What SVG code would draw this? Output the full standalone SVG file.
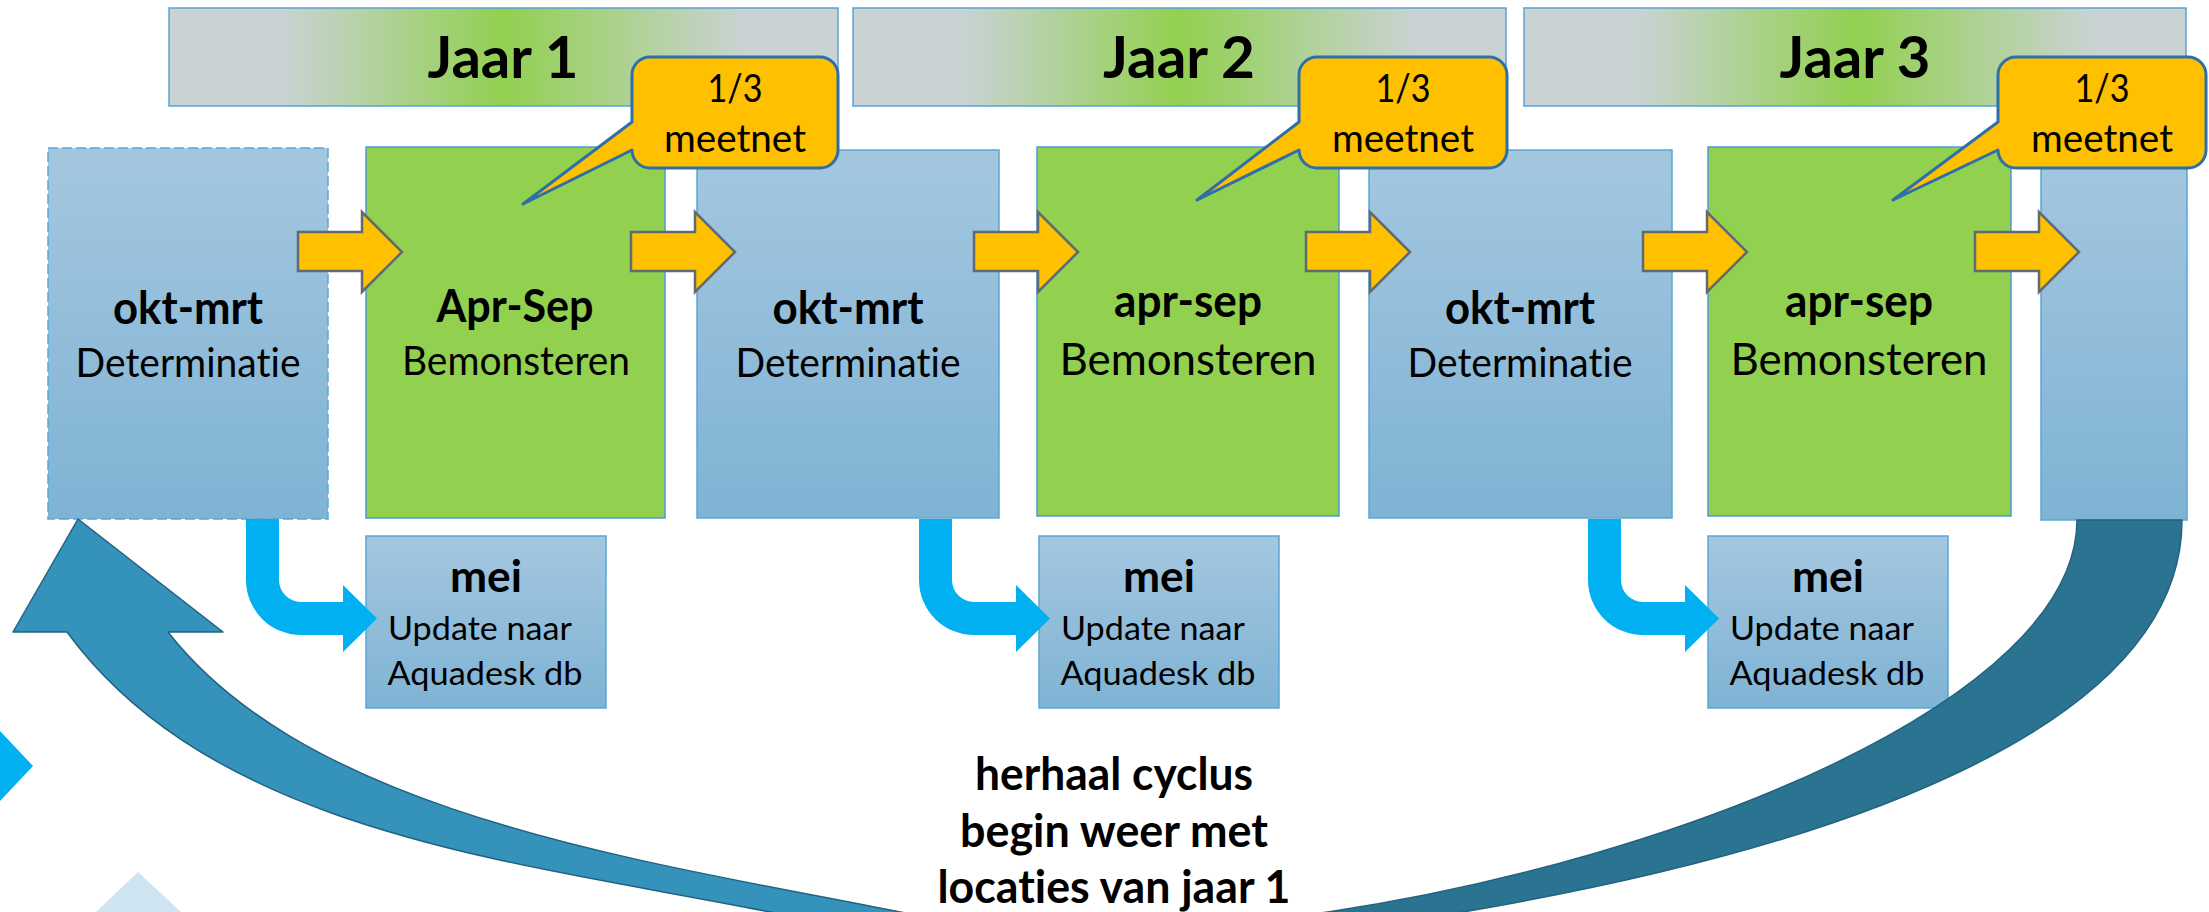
<svg xmlns="http://www.w3.org/2000/svg" width="2209" height="912" viewBox="0 0 2209 912">
  <defs>
    <linearGradient id="bannerFill" x1="0" y1="0" x2="1" y2="0">
      <stop offset="0" stop-color="#c9d3d4"/>
      <stop offset="0.17" stop-color="#c9d3d3"/>
      <stop offset="0.5" stop-color="#92d050"/>
      <stop offset="0.86" stop-color="#c9d3d3"/>
      <stop offset="1" stop-color="#c9d3d4"/>
    </linearGradient>
    <linearGradient id="blueFill" x1="0" y1="0" x2="0" y2="1">
      <stop offset="0" stop-color="#a4c7e0"/>
      <stop offset="1" stop-color="#7fb3d4"/>
    </linearGradient>
    <linearGradient id="cycleFill" gradientUnits="userSpaceOnUse" x1="1050" y1="0" x2="1250" y2="0">
      <stop offset="0" stop-color="#3592ba"/>
      <stop offset="1" stop-color="#2a7492"/>
    </linearGradient>
    <!-- yellow step arrow, head base at x=0 -->
    <path id="stepArrow" d="M -64,232 H 0 V 212 L 40,252 L 0,292 V 271 H -64 Z"/>
    <!-- bright blue bent arrow from a period box down into the "mei" box -->
    <path id="bentArrow" d="M 246,519 H 279 V 580 A 22 22 0 0 0 301,602 H 343 V 585 L 377,618.5 L 343,652 V 635 H 301 A 55 55 0 0 1 246,580 Z"/>
    <style>
      .banner { fill: url(#bannerFill); stroke: #5aa2d4; stroke-width: 1.5; }
      .blue { fill: url(#blueFill); stroke: #5aa6d3; stroke-width: 1.5; }
      .green { fill: #92d050; stroke: #4f9bd0; stroke-width: 1.5; }
      .callout { fill: #ffc000; stroke: #2e6fa8; stroke-width: 3; stroke-linejoin: round; }
      .step { fill: #ffc000; stroke: #5f6a72; stroke-width: 2.5; }
      .bent { fill: #00b0f0; }
      .t { font-family: Lato, "Noto Sans", sans-serif; fill: #000; text-anchor: middle;
           font-variant-ligatures: none; font-feature-settings: "liga" 0; }
      .year { font-size: 58px; font-weight: bold; }
      .cnote { font-size: 38px; }
      .head { font-size: 45px; font-weight: bold; }
      .sub { font-size: 40px; }
      .subL { font-size: 45px; }
      .meih { font-size: 43px; font-weight: bold; }
      .meis { font-size: 33.5px; }
      .foot { font-size: 45px; font-weight: bold; }
    </style>
  </defs>

  <!-- partial decorations at the left edge -->
  <path d="M 0,731 L 33,766 L 0,801 Z" fill="#00b0f0"/>
  <path d="M 138,872 L 181,912 L 96,912 Z" fill="#cfe4f3"/>

  <!-- year banners -->
  <g id="jaar1">
    <rect class="banner" x="169" y="8" width="669" height="98"/>
    <text class="t year" x="503" y="78" textLength="151" lengthAdjust="spacingAndGlyphs">Jaar 1</text>
  </g>
  <g id="jaar2">
    <rect class="banner" x="853" y="8" width="653" height="98"/>
    <text class="t year" x="1179" y="78" textLength="152" lengthAdjust="spacingAndGlyphs">Jaar 2</text>
  </g>
  <g id="jaar3">
    <rect class="banner" x="1524" y="8" width="662" height="98"/>
    <text class="t year" x="1855" y="78" textLength="151" lengthAdjust="spacingAndGlyphs">Jaar 3</text>
  </g>

  <!-- period boxes -->
  <g id="okt-mrt-0">
    <rect class="blue" x="48" y="148" width="280" height="371" stroke-dasharray="10 4"/>
    <text class="t head" x="188" y="324" textLength="150" lengthAdjust="spacingAndGlyphs">okt-mrt</text>
    <text class="t sub" x="188" y="377" textLength="225" lengthAdjust="spacingAndGlyphs">Determinatie</text>
  </g>
  <g id="apr-sep-1">
    <rect class="green" x="366" y="147" width="299" height="371"/>
    <text class="t head" x="515" y="322" textLength="157" lengthAdjust="spacingAndGlyphs">Apr-Sep</text>
    <text class="t sub" x="516" y="375" textLength="228" lengthAdjust="spacingAndGlyphs">Bemonsteren</text>
  </g>
  <g id="okt-mrt-1">
    <rect class="blue" x="697" y="150" width="302" height="368"/>
    <text class="t head" x="848" y="324" textLength="151" lengthAdjust="spacingAndGlyphs">okt-mrt</text>
    <text class="t sub" x="848" y="377" textLength="225" lengthAdjust="spacingAndGlyphs">Determinatie</text>
  </g>
  <g id="apr-sep-2">
    <rect class="green" x="1037" y="147" width="302" height="369"/>
    <text class="t head" x="1188" y="317" textLength="148" lengthAdjust="spacingAndGlyphs">apr-sep</text>
    <text class="t subL" x="1188" y="375" textLength="257" lengthAdjust="spacingAndGlyphs">Bemonsteren</text>
  </g>
  <g id="okt-mrt-2">
    <rect class="blue" x="1369" y="150" width="303" height="368"/>
    <text class="t head" x="1520" y="324" textLength="150" lengthAdjust="spacingAndGlyphs">okt-mrt</text>
    <text class="t sub" x="1520" y="377" textLength="225" lengthAdjust="spacingAndGlyphs">Determinatie</text>
  </g>
  <g id="apr-sep-3">
    <rect class="green" x="1708" y="147" width="303" height="369"/>
    <text class="t head" x="1859" y="317" textLength="148" lengthAdjust="spacingAndGlyphs">apr-sep</text>
    <text class="t subL" x="1859" y="375" textLength="257" lengthAdjust="spacingAndGlyphs">Bemonsteren</text>
  </g>
  <g id="okt-mrt-3">
    <rect class="blue" x="2041" y="150" width="146" height="370"/>
  </g>

  <!-- database update boxes -->
  <g id="mei-1">
    <rect class="blue" x="366" y="536" width="240" height="172"/>
    <text class="t meih" x="486" y="592" textLength="72" lengthAdjust="spacingAndGlyphs">mei</text>
    <text class="t meis" x="480" y="640" textLength="184" lengthAdjust="spacingAndGlyphs">Update naar</text>
    <text class="t meis" x="485" y="685" textLength="195" lengthAdjust="spacingAndGlyphs">Aquadesk db</text>
  </g>
  <g id="mei-2">
    <rect class="blue" x="1039" y="536" width="240" height="172"/>
    <text class="t meih" x="1159" y="592" textLength="72" lengthAdjust="spacingAndGlyphs">mei</text>
    <text class="t meis" x="1153" y="640" textLength="184" lengthAdjust="spacingAndGlyphs">Update naar</text>
    <text class="t meis" x="1158" y="685" textLength="195" lengthAdjust="spacingAndGlyphs">Aquadesk db</text>
  </g>
  <g id="mei-3">
    <rect class="blue" x="1708" y="536" width="240" height="172"/>
    <text class="t meih" x="1828" y="592" textLength="72" lengthAdjust="spacingAndGlyphs">mei</text>
    <text class="t meis" x="1822" y="640" textLength="184" lengthAdjust="spacingAndGlyphs">Update naar</text>
    <text class="t meis" x="1827" y="685" textLength="195" lengthAdjust="spacingAndGlyphs">Aquadesk db</text>
  </g>

  <!-- connectors -->
  <g id="connectors">
    <use href="#stepArrow" class="step" transform="translate(362,0)"/>
    <use href="#stepArrow" class="step" transform="translate(695,0)"/>
    <use href="#stepArrow" class="step" transform="translate(1038,0)"/>
    <use href="#stepArrow" class="step" transform="translate(1370,0)"/>
    <use href="#stepArrow" class="step" transform="translate(1707,0)"/>
    <use href="#stepArrow" class="step" transform="translate(2039,0)"/>
    <use href="#bentArrow" class="bent"/>
    <use href="#bentArrow" class="bent" transform="translate(673,0)"/>
    <use href="#bentArrow" class="bent" transform="translate(1342,0)"/>
    <!-- large return arrow: from the last box back to the first, dipping below the bottom edge -->
    <path fill="url(#cycleFill)" stroke="#22627f" stroke-width="1.5" stroke-linejoin="round"
          d="M 2077,520 H 2182 C 2182,720 1863,844 1463,912 C 1233,951 1000,958 770,912 C 520,862 215.5,834.5 67,632 L 13,632 L 78,519 L 223,632 L 168,632 C 312,816.5 650,862 900,912 C 1040,940 1188,933 1328,912 C 1678,859.5 2077,700 2077,520 Z"/>
  </g>

  <!-- call-outs -->
  <g id="callout-1">
    <path class="callout" d="M 650,57 H 820 A 18 18 0 0 1 838,75 V 150 A 18 18 0 0 1 820,168 H 650 A 18 18 0 0 1 632,150 L 523,204 L 632,122 V 75 A 18 18 0 0 1 650,57 Z"/>
    <text class="t cnote" x="735" y="102" textLength="55" lengthAdjust="spacingAndGlyphs">1/3</text>
    <text class="t cnote" x="735" y="152" textLength="142" lengthAdjust="spacingAndGlyphs">meetnet</text>
  </g>
  <g id="callout-2">
    <path class="callout" d="M 1317,57 H 1489 A 18 18 0 0 1 1507,75 V 150 A 18 18 0 0 1 1489,168 H 1317 A 18 18 0 0 1 1299,150 L 1197,200 L 1299,122 V 75 A 18 18 0 0 1 1317,57 Z"/>
    <text class="t cnote" x="1403" y="102" textLength="55" lengthAdjust="spacingAndGlyphs">1/3</text>
    <text class="t cnote" x="1403" y="152" textLength="142" lengthAdjust="spacingAndGlyphs">meetnet</text>
  </g>
  <g id="callout-3">
    <path class="callout" d="M 2016,57 H 2188 A 18 18 0 0 1 2206,75 V 150 A 18 18 0 0 1 2188,168 H 2016 A 18 18 0 0 1 1998,150 L 1893,200 L 1998,122 V 75 A 18 18 0 0 1 2016,57 Z"/>
    <text class="t cnote" x="2102" y="102" textLength="55" lengthAdjust="spacingAndGlyphs">1/3</text>
    <text class="t cnote" x="2102" y="152" textLength="142" lengthAdjust="spacingAndGlyphs">meetnet</text>
  </g>

  <!-- cycle note -->
  <g id="herhaal">
    <text class="t foot" x="1114" y="790" textLength="278" lengthAdjust="spacingAndGlyphs">herhaal cyclus</text>
    <text class="t foot" x="1114" y="847" textLength="308" lengthAdjust="spacingAndGlyphs">begin weer met</text>
    <text class="t foot" x="1114" y="903" textLength="353" lengthAdjust="spacingAndGlyphs">locaties van jaar 1</text>
  </g>
</svg>
